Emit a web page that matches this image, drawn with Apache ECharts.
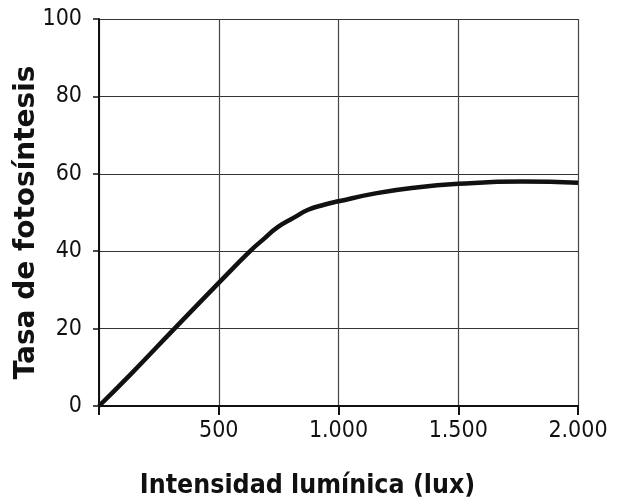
<!DOCTYPE html>
<html>
<head>
<meta charset="utf-8">
<script src="https://cdn.jsdelivr.net/npm/echarts@6/dist/echarts.min.js"></script>
<style>html,body{margin:0;padding:0;background:#fff}#c{width:620px;height:502px}</style>
</head>
<body>
<div id="c"></div>
<script>
// Light intensity (lux) and photosynthesis rate
var intensity = [0, 134, 315, 503, 634, 685, 746, 812, 873, 940, 1000, 1160, 1314, 1500, 1765, 2000];
var rate      = [0, 8.3, 20, 32, 40.2, 43.0, 46.2, 48.6, 50.7, 52.0, 52.9, 55, 56.4, 57.4, 58, 57.7];
var xTickLabels = {0: '', 500: '500', 1000: '1.000', 1500: '1.500', 2000: '2.000'};
var yTicks = [0, 20, 40, 60, 80, 100];
var xTitle = 'Intensidad lumínica (lux)';
var yTitle = 'Tasa de fotosíntesis';

var points = intensity.map(function (x, i) { return [x, rate[i]]; });
var tickFont = '"DejaVu Sans Condensed", sans-serif';
var chart = echarts.init(document.getElementById('c'));
chart.setOption({
  animation: false,
  grid: {left: 99, right: 42, top: 19, bottom: 96, containLabel: false, outerBoundsMode: 'none'},
  xAxis: {
    type: 'value', min: 0, max: 2000, interval: 500,
    name: xTitle, nameLocation: 'middle', nameGap: 67, nameMoveOverlap: false,
    nameTextStyle: {fontFamily: '"DejaVu Sans Condensed", "DejaVu Sans", sans-serif', fontWeight: 'bold', fontSize: 26.5, color: '#111', padding: [0, 62, 0, 0]},
    axisLine: {show: true, onZero: false, lineStyle: {color: '#111', width: 2}},
    axisTick: {show: true, length: 9, lineStyle: {color: '#111', width: 2}},
    axisLabel: {margin: 14, fontFamily: tickFont, fontSize: 23, color: '#111',
      formatter: function (v) { return xTickLabels[v] !== undefined ? xTickLabels[v] : String(v); }},
    splitLine: {show: true, lineStyle: {color: '#444', width: 1.2}}
  },
  yAxis: {
    type: 'value', min: yTicks[0], max: yTicks[yTicks.length - 1], interval: 20,
    name: yTitle, nameLocation: 'middle', nameGap: 58, nameRotate: 90, nameMoveOverlap: false,
    nameTextStyle: {fontFamily: '"DejaVu Sans", sans-serif', fontWeight: 'bold', fontSize: 28, color: '#111', padding: [0, 20, 0, 0]},
    axisLine: {show: true, lineStyle: {color: '#111', width: 2}},
    axisTick: {show: true, length: 6, lineStyle: {color: '#111', width: 1.5}},
    axisLabel: {margin: 17, fontFamily: tickFont, fontSize: 23, color: '#111'},
    splitLine: {show: true, lineStyle: {color: '#333', width: 1.2}}
  },
  series: [{
    type: 'line', data: points, smooth: 0.5, symbol: 'none',
    lineStyle: {color: '#111', width: 4.5}
  }]
});
</script>
</body>
</html>
